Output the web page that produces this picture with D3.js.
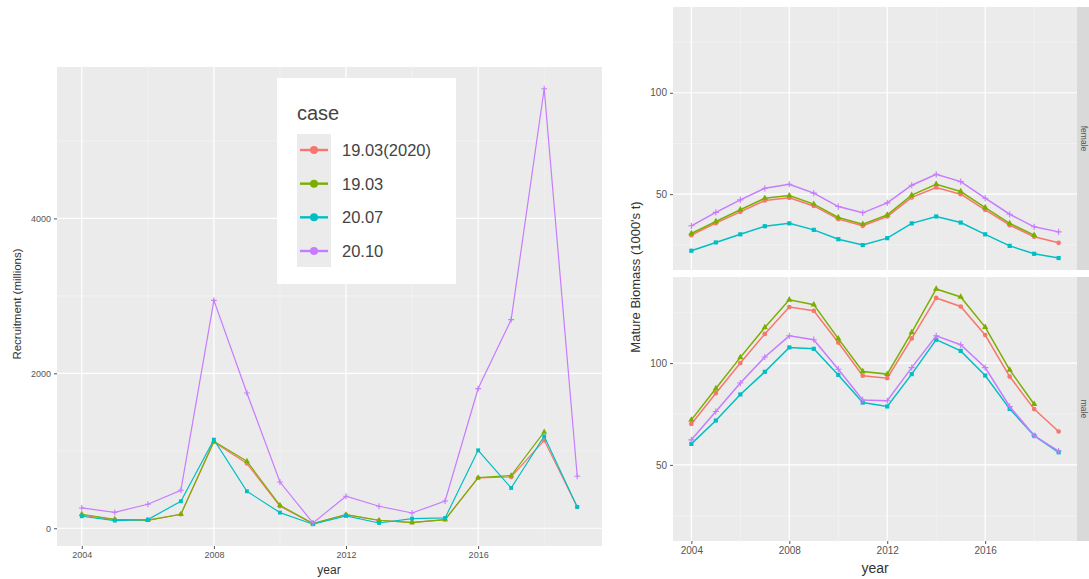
<!DOCTYPE html>
<html>
<head>
<meta charset="utf-8">
<script src="https://cdn.jsdelivr.net/npm/d3@7"></script>
<style>
  body { margin: 0; background: #fff; }
  svg { font-family: "Liberation Sans", Arial, Helvetica, sans-serif; }
</style>
</head>
<body>
<div id="area"></div>
<script>
// data
var years = [2004, 2005, 2006, 2007, 2008, 2009, 2010, 2011, 2012, 2013, 2014, 2015, 2016, 2017, 2018, 2019];
var cases = ["19.03(2020)", "19.03", "20.07", "20.10"];
var caseColors = ["#F8766D", "#7CAE00", "#00BFC4", "#C77CFF"];
var caseShapes = ["circle", "triangle", "square", "plus"];

// Recruitment (millions)
var recRed    = [170, 112, 105, 180, 1115, 835, 284, 60, 175, 100, 75, 112, 650, 662, 1135, 275];
var recGreen  = [181, 116, 103, 181, 1123, 865, 297, 60, 177, 103, 73, 112, 654, 680, 1243, null];
var recCyan   = [155, 99, 112, 348, 1144, 477, 202, 52, 159, 68, 125, 133, 1006, 520, 1187, 275];
var recPurple = [262, 206, 310, 490, 2942, 1746, 597, 68, 413, 284, 197, 352, 1803, 2693, 5673, 671];

// Mature biomass (1000's t), female
var femRed    = [29.8, 35.7, 41.3, 46.9, 48.2, 44.2, 37.7, 34.4, 39.0, 48.4, 53.3, 50.0, 42.3, 34.7, 29.0, 26.0];
var femGreen  = [30.6, 36.5, 42.3, 48.0, 49.3, 45.1, 38.5, 35.2, 39.8, 49.5, 54.9, 51.3, 43.4, 35.6, 29.8, null];
var femCyan   = [22.1, 26.2, 30.2, 34.2, 35.6, 32.4, 27.8, 24.9, 28.3, 35.6, 39.0, 36.0, 30.2, 24.5, 20.6, 18.5];
var femPurple = [34.4, 41.0, 47.2, 52.9, 54.9, 50.5, 43.9, 40.8, 45.7, 54.4, 59.8, 56.2, 48.0, 40.1, 33.9, 31.4];

// Mature biomass (1000's t), male
var maleRed    = [70.1, 85.2, 100.0, 114.3, 127.5, 125.7, 110.1, 93.8, 92.6, 112.1, 132.0, 127.8, 113.8, 93.4, 77.4, 66.4];
var maleGreen  = [72.1, 87.5, 102.8, 117.5, 131.1, 128.7, 112.0, 95.9, 94.6, 115.1, 136.4, 132.5, 117.7, 96.7, 79.8, null];
var maleCyan   = [60.3, 71.8, 84.6, 95.7, 107.7, 107.0, 94.2, 80.6, 78.7, 94.6, 111.5, 106.0, 93.9, 77.5, 64.4, 56.2];
var malePurple = [62.3, 76.2, 90.2, 103.0, 113.4, 111.5, 97.0, 81.9, 81.5, 97.8, 113.4, 109.0, 97.8, 78.7, 64.4, 56.8];

var recSeries = [recRed, recGreen, recCyan, recPurple];
var femSeries = [femRed, femGreen, femCyan, femPurple];
var maleSeries = [maleRed, maleGreen, maleCyan, malePurple];

var xTicks = [2004, 2008, 2012, 2016];
var xMinor = [2006, 2010, 2014, 2018];
var recTicks = [0, 2000, 4000];
var recMinor = [1000, 3000, 5000];
var bioTicks = [50, 100];
var bioMinor = [25, 75, 125];

var width = 1089, height = 579;

var svg = d3.select("#area")
  .append("svg")
    .attr("width", width)
    .attr("height", height);

// ggplot style 5% expansion
function expand(ext) {
  var pad = (ext[1] - ext[0]) * 0.05;
  return [ext[0] - pad, ext[1] + pad];
}

function symbolPath(shape, size) {
  if (shape == "plus") {
    var h = size + 0.5;
    return "M" + (-h) + ",0H" + h + "M0," + (-h) + "V" + h;
  }
  var t = shape == "circle" ? d3.symbolCircle : shape == "triangle" ? d3.symbolTriangle : d3.symbolSquare;
  return d3.symbol().type(t).size(size * size * 2.6)();
}

// draw a panel: grey bg, grid, lines, points
function drawPanel(g, x, y, series, yMajor, yMinorT, lw, ms) {
  var x0 = x.range()[0], x1 = x.range()[1];
  var y0 = y.range()[1], y1 = y.range()[0];

  g.append("rect")
    .attr("x", x0).attr("y", y0)
    .attr("width", x1 - x0).attr("height", y1 - y0)
    .style("fill", "#ebebeb");

  g.selectAll(".ymin").data(yMinorT).enter().append("line")
    .attr("x1", x0).attr("x2", x1)
    .attr("y1", function(d) { return y(d); }).attr("y2", function(d) { return y(d); })
    .style("stroke", "#f7f7f7").style("stroke-width", 0.6);
  g.selectAll(".xmin").data(xMinor).enter().append("line")
    .attr("y1", y0).attr("y2", y1)
    .attr("x1", function(d) { return x(d); }).attr("x2", function(d) { return x(d); })
    .style("stroke", "#f7f7f7").style("stroke-width", 0.6);
  g.selectAll(".ymaj").data(yMajor).enter().append("line")
    .attr("x1", x0).attr("x2", x1)
    .attr("y1", function(d) { return y(d); }).attr("y2", function(d) { return y(d); })
    .style("stroke", "#fff").style("stroke-width", 1.2);
  g.selectAll(".xmaj").data(xTicks).enter().append("line")
    .attr("y1", y0).attr("y2", y1)
    .attr("x1", function(d) { return x(d); }).attr("x2", function(d) { return x(d); })
    .style("stroke", "#fff").style("stroke-width", 1.2);

  var line = d3.line()
    .defined(function(d) { return d.v != null; })
    .x(function(d) { return x(d.year); })
    .y(function(d) { return y(d.v); });

  series.forEach(function(vals, i) {
    var pts = years.map(function(yr, j) { return {year: yr, v: vals[j]}; });
    g.append("path")
      .datum(pts)
      .attr("d", line)
      .style("fill", "none")
      .style("stroke", caseColors[i])
      .style("stroke-width", lw);
    g.selectAll(".pt" + i)
      .data(pts.filter(function(d) { return d.v != null; }))
      .enter().append("path")
        .attr("transform", function(d) { return "translate(" + x(d.year) + "," + y(d.v) + ")"; })
        .attr("d", symbolPath(caseShapes[i], ms))
        .style("fill", caseShapes[i] == "plus" ? "none" : caseColors[i])
        .style("stroke", caseShapes[i] == "plus" ? caseColors[i] : "none")
        .style("stroke-width", 1.1);
  });
}

function axisStyle(sel, fs) {
  sel.select(".domain").remove();
  sel.selectAll("text").style("font-size", fs + "px").style("fill", "#555").attr("font-family", null);
  sel.selectAll(".tick line").style("stroke", "#555");
}

// ---------- left chart: recruitment ----------
var xL = d3.scaleLinear().domain(expand([2004, 2019])).range([57, 602]);
var allRec = [].concat(recRed, recGreen, recCyan, recPurple).filter(function(d) { return d != null; });
var yL = d3.scaleLinear().domain(expand(d3.extent(allRec))).range([546, 67]);

var left = svg.append("g");
drawPanel(left, xL, yL, recSeries, recTicks, recMinor, 1.2, 2.4);

left.append("g")
  .attr("transform", "translate(0,546)")
  .call(d3.axisBottom(xL).tickValues(xTicks).tickFormat(d3.format("d")).tickSize(3).tickPadding(3))
  .call(axisStyle, 9);
left.append("g")
  .attr("transform", "translate(57,0)")
  .call(d3.axisLeft(yL).tickValues(recTicks).tickFormat(d3.format("d")).tickSize(3).tickPadding(3))
  .call(axisStyle, 9);

left.append("text")
  .attr("transform", "translate(21,304) rotate(-90)")
  .attr("text-anchor", "middle")
  .style("font-size", "11.5px").style("fill", "#333")
  .text("Recruitment (millions)");
left.append("text")
  .attr("x", 329).attr("y", 574)
  .attr("text-anchor", "middle")
  .style("font-size", "12px").style("fill", "#333")
  .text("year");

// legend
var legend = left.append("g");
legend.append("rect")
  .attr("x", 277).attr("y", 78).attr("width", 179).attr("height", 206)
  .style("fill", "#fff");
legend.append("text")
  .attr("x", 297).attr("y", 120)
  .style("font-size", "20px").style("fill", "#444")
  .text("case");
legend.append("rect")
  .attr("x", 297).attr("y", 134).attr("width", 34).attr("height", 133)
  .style("fill", "#ebebeb");
var legY = d3.scalePoint().domain(cases).range([150, 251]);
cases.forEach(function(c, i) {
  var yy = legY(c);
  legend.append("line")
    .attr("x1", 300).attr("x2", 328).attr("y1", yy).attr("y2", yy)
    .style("stroke", caseColors[i]).style("stroke-width", 2.4);
  legend.append("circle")
    .attr("cx", 314).attr("cy", yy).attr("r", 4)
    .style("fill", caseColors[i]);
  legend.append("text")
    .attr("x", 342).attr("y", yy + 6)
    .style("font-size", "16.5px").style("fill", "#444")
    .text(c);
});

// ---------- right chart: mature biomass by sex ----------
var xR = d3.scaleLinear().domain(expand([2004, 2019])).range([673, 1077]);
var allBio = [].concat(femRed, femGreen, femCyan, femPurple, maleRed, maleGreen, maleCyan, malePurple)
  .filter(function(d) { return d != null; });
var bioDom = expand(d3.extent(allBio));
var panels = [
  {label: "female", series: femSeries, top: 7, bottom: 270},
  {label: "male", series: maleSeries, top: 277, bottom: 541}
];

panels.forEach(function(p) {
  var yR = d3.scaleLinear().domain(bioDom).range([p.bottom, p.top]);
  var g = svg.append("g");
  drawPanel(g, xR, yR, p.series, bioTicks, bioMinor, 1.5, 2.6);
  g.append("g")
    .attr("transform", "translate(673,0)")
    .call(d3.axisLeft(yR).tickValues(bioTicks).tickSize(3).tickPadding(3))
    .call(axisStyle, 10);
  // strip on the right
  g.append("rect")
    .attr("x", 1077).attr("y", p.top).attr("width", 20).attr("height", p.bottom - p.top)
    .style("fill", "#d9d9d9");
  g.append("text")
    .attr("transform", "translate(1083.5," + ((p.top + p.bottom) / 2) + ") rotate(90)")
    .attr("text-anchor", "middle")
    .attr("dominant-baseline", "middle")
    .style("font-size", "8.5px").style("fill", "#555")
    .text(p.label);
});

svg.append("g")
  .attr("transform", "translate(0,541)")
  .call(d3.axisBottom(xR).tickValues(xTicks).tickFormat(d3.format("d")).tickSize(3).tickPadding(3))
  .call(axisStyle, 10);

svg.append("text")
  .attr("transform", "translate(640,277) rotate(-90)")
  .attr("text-anchor", "middle")
  .style("font-size", "13px").style("fill", "#333")
  .text("Mature Biomass (1000's t)");
svg.append("text")
  .attr("x", 875).attr("y", 573)
  .attr("text-anchor", "middle")
  .style("font-size", "14px").style("fill", "#333")
  .text("year");
</script>
</body>
</html>
